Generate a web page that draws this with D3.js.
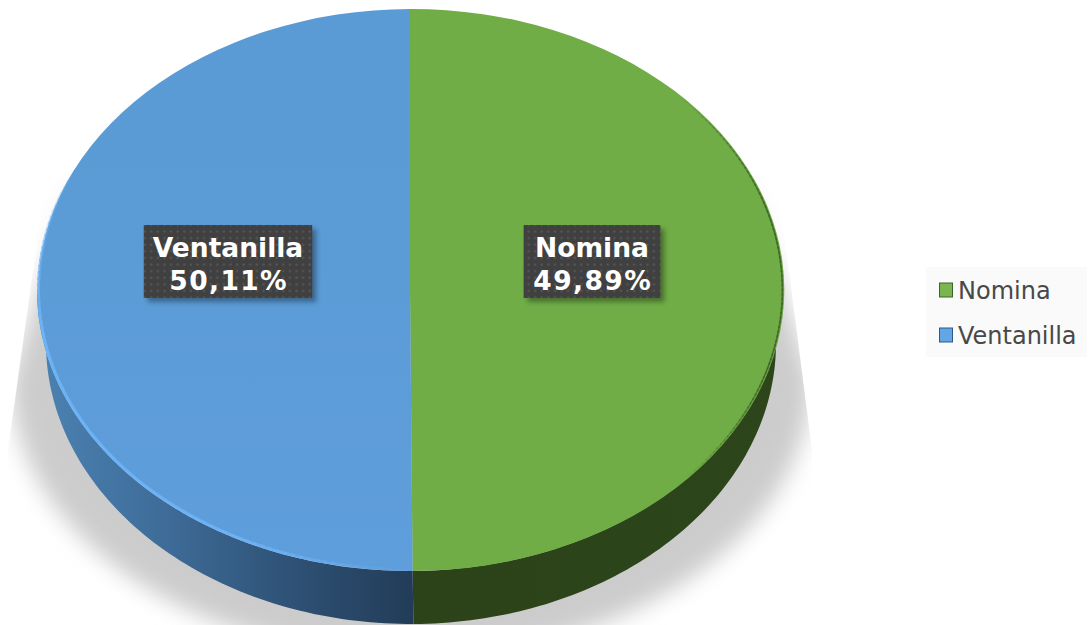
<!DOCTYPE html>
<html><head><meta charset="utf-8">
<script src="https://cdn.jsdelivr.net/npm/d3@7"></script>
<style>html,body{margin:0;padding:0;background:#fff}svg{display:block}</style></head>
<body><svg id="c" width="1090" height="625"></svg>
<script>
const categories = ["Nomina", "Ventanilla"];
const values = [49.89, 50.11];
const valueLabels = ["49,89%", "50,11%"];
const topColors = ["#70ad47", "url(#topBlue)"];

const cx = 410, cy = 290, rx = 373, ry = 281, depth = 53, botCx = 411, botRx = 365;
const svg = d3.select("#c");
const defs = svg.append("defs");

function filt(id, sd){ defs.append("filter").attr("id", id)
  .attr("x","-30%").attr("y","-30%").attr("width","160%").attr("height","160%")
  .append("feGaussianBlur").attr("stdDeviation", sd); }
filt("b06", 0.7); filt("b3", 2.5); filt("b12", 11);

function grad(id, x1, y1, x2, y2, stops){
  const g = defs.append("linearGradient").attr("id",id).attr("gradientUnits","userSpaceOnUse")
    .attr("x1",x1).attr("y1",y1).attr("x2",x2).attr("y2",y2);
  stops.forEach(s=>g.append("stop").attr("offset",s[0]).attr("stop-color",s[1]).attr("stop-opacity",s[2]===undefined?1:s[2]));
}
grad("wallBlue",48,0,414,0,[[0,"#4a80b0"],[0.3,"#3f6d9a"],[0.7,"#2d4f72"],[1,"#223c58"]]);
grad("wallGreen",414,0,780,0,[[0,"#2c431a"],[1,"#2d451b"]]);
grad("shadowFade",0,170,0,290,[[0,"#cccccc",0],[0.35,"#cccccc",0.45],[1,"#cccccc",1]]);
// the top face is drawn in unit coordinates, so this gradient is in them too
grad("topBlue",0,-1,0,1,[[0,"#5b9bd5"],[0.45,"#5b9bd6"],[1,"#5f9edc"]]);

const pat = defs.append("pattern").attr("id","dots").attr("patternUnits","userSpaceOnUse")
  .attr("width",6.6).attr("height",6.6);
pat.append("rect").attr("width",6.6).attr("height",6.6).attr("fill","#404040");
pat.append("rect").attr("x",1.5).attr("y",1.5).attr("width",2).attr("height",2).attr("fill","#595959");

const pie = d3.pie().sort(null).value(d=>d)(values);
const arcTop = d3.arc().innerRadius(0).outerRadius(1);
const px = a => cx + rx*Math.sin(a), py = a => cy - ry*Math.cos(a);

// ground shadow: soft ellipse + trapezoid, cut by straight lines
defs.append("clipPath").attr("id","shadowClip").append("path")
  .attr("d", d3.line()([[47,170],[8,450],[8,625],[812,625],[812,450],[776,170]])+"Z");
const sCx = 411, sCy = 380, sRx = 400, sRy = 277;
const lowerHalf = d3.range(0,61).map(i=>{const a=Math.PI/2+Math.PI*i/60;
  return [sCx+sRx*Math.sin(a), sCy-sRy*Math.cos(a)];});
const shadowPts = [[740,150]].concat(lowerHalf, [[80,150]]);
svg.append("g").attr("clip-path","url(#shadowClip)").append("path")
  .attr("filter","url(#b12)").attr("fill","url(#shadowFade)")
  .attr("d", d3.line()(shadowPts)+"Z");

// side walls
function wall(d){
  const a0 = Math.max(d.startAngle, Math.PI/2), a1 = Math.min(d.endAngle, 3*Math.PI/2);
  const arcPts = d3.range(0,81).map(i=>a0+(a1-a0)*i/80);
  const top = arcPts.map(a=>[px(a),py(a)]);
  const bot = arcPts.slice().reverse().map(a=>[botCx+botRx*Math.sin(a),py(a)+depth]);
  return d3.line()(top.concat(bot))+"Z";
}
svg.append("g").selectAll("path").data(pie).join("path")
  .attr("d",wall).attr("fill",(d,i)=>i==0?"url(#wallGreen)":"url(#wallBlue)");

// top face
svg.append("g").attr("transform",`translate(${cx},${cy}) scale(${rx},${ry})`)
  .selectAll("path").data(pie).join("path")
  .attr("d",arcTop).attr("fill",(d,i)=>topColors[i]);

// bevel rims, tapered at both ends with per-segment opacity
function rim(a0,a1,r,color,width,tapIn,tapOut,peak){
  const n=90, g=svg.append("g").attr("filter","url(#b06)").attr("fill","none");
  d3.range(n).forEach(i=>{
    const t=i/n, a=a0+(a1-a0)*t, b=a0+(a1-a0)*(i+1.4)/n;
    const op=peak*Math.min(1,t/tapIn,(1-t)/tapOut);
    g.append("path").attr("stroke",color).attr("stroke-width",width).attr("stroke-opacity",op)
      .attr("d",d3.line()([[cx+(rx-r)*Math.sin(a),cy-(ry-r)*Math.cos(a)],[cx+(rx-r)*Math.sin(b),cy-(ry-r)*Math.cos(b)]]));
  });
}
rim(pie[1].startAngle+0.01,5.15,1.5,"#6cb2f6",3,0.25,0.3,1);
rim(0.8,2.3,0.6,"#3f6428",1.6,0.3,0.3,0.85);

// data labels
const labels = svg.append("g").selectAll("g").data(pie).join("g")
  .attr("transform",d=>{const c=arcTop.centroid(d);
    return `translate(${cx+rx*c[0]*0.976},262)`;});
labels.each(function(d,i){
  const g=d3.select(this);
  const t=g.append("text").attr("text-anchor","middle")
    .attr("font-family","'DejaVu Sans',Verdana,sans-serif").attr("font-weight","bold")
    .attr("font-size",26.5).attr("fill","#fff");
  t.append("tspan").attr("x",0).attr("y",-5).text(categories[i]);
  t.append("tspan").attr("x",0.7).attr("y",28).attr("letter-spacing",1.4).text(valueLabels[i]);
  const w=t.node().getBBox().width+18;
  g.insert("rect","text").attr("x",-w/2+4).attr("y",-37+4).attr("width",w).attr("height",73)
    .attr("fill","#000").attr("opacity",0.35).attr("filter","url(#b3)");
  g.insert("rect","text").attr("x",-w/2).attr("y",-37).attr("width",w).attr("height",73).attr("fill","url(#dots)");
});

// legend
svg.append("rect").attr("x",926).attr("y",267).attr("width",161).attr("height",90).attr("fill","#fafafa");
const ly = d3.scaleBand().domain(categories).range([267,357]).padding(0);
const mk = d3.scaleOrdinal().domain(categories).range(["#7ab54f","#62a6e6"]);
const mkS = d3.scaleOrdinal().domain(categories).range(["#3f6428","#2f5a85"]);
const leg = svg.append("g").selectAll("g").data(categories).join("g")
  .attr("transform",d=>`translate(939,${ly(d)+ly.bandwidth()/2})`);
leg.append("rect").attr("x",0.5).attr("y",-6.5).attr("width",13).attr("height",14)
  .attr("fill",d=>mk(d)).attr("stroke",d=>mkS(d)).attr("stroke-width",1);
leg.append("text").attr("x",19).attr("y",9).text(d=>d)
  .attr("font-family","'DejaVu Sans',Verdana,sans-serif").attr("font-size",24).attr("fill","#484848");
</script></body></html>
